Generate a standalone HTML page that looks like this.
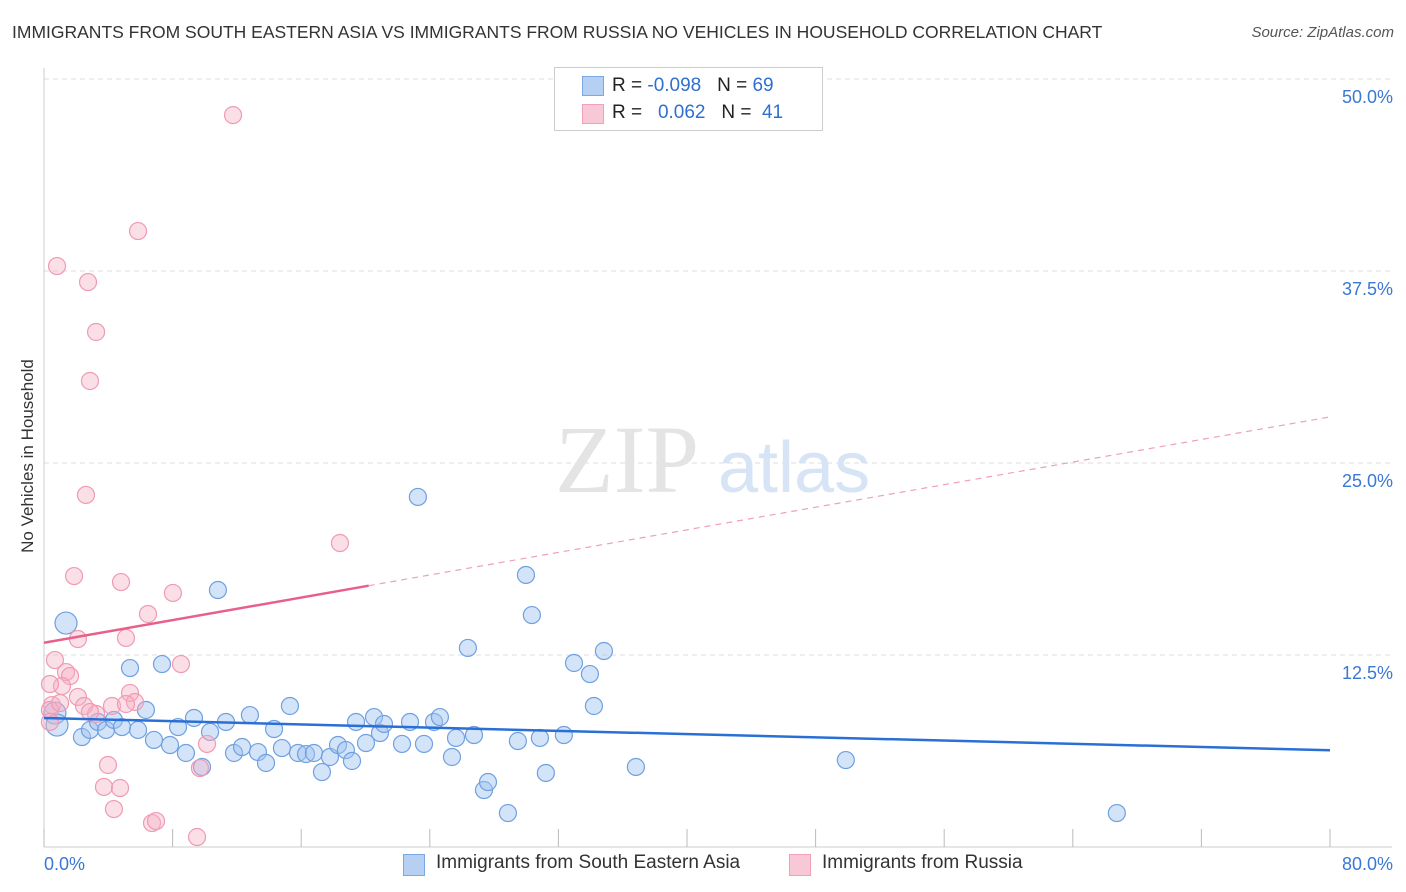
<!DOCTYPE html>
<html><head><meta charset="utf-8"><style>
body{margin:0;background:#fff;font-family:"Liberation Sans",sans-serif;}
#w{position:relative;width:1406px;height:892px;overflow:hidden;}
.t{position:absolute;white-space:nowrap;}
</style></head><body>
<div id="w">
<div class="t" style="left:12px;top:22px;font-size:17.5px;color:#333;">IMMIGRANTS FROM SOUTH EASTERN ASIA VS IMMIGRANTS FROM RUSSIA NO VEHICLES IN HOUSEHOLD CORRELATION CHART</div>
<div class="t" style="right:12px;top:24px;font-size:15px;color:#555;font-style:italic;">Source: ZipAtlas.com</div>
<div class="t" style="left:28px;top:456px;font-size:17px;color:#333;transform:translate(-50%,-50%) rotate(-90deg);">No Vehicles in Household</div>
<svg id="s" width="1406" height="892" style="position:absolute;left:0;top:0"></svg>
<div style="position:absolute;left:554px;top:67px;width:267px;height:62px;border:1px solid #ccc;background:#fff;font-size:19px;">
<div style="position:absolute;left:27px;top:8px;width:20px;height:18px;background:#b5d0f3;border:1px solid #7aa8e0;"></div>
<div class="t" style="left:57px;top:7px;color:#222;">R = <span style="color:#2f6fcf">-0.098</span>&nbsp;&nbsp;&nbsp;N = <span style="color:#2f6fcf">69</span></div>
<div style="position:absolute;left:27px;top:36px;width:20px;height:18px;background:#f8c8d6;border:1px solid #f0a0b8;"></div>
<div class="t" style="left:57px;top:34px;color:#222;">R = &nbsp;&nbsp;<span style="color:#2f6fcf">0.062</span>&nbsp;&nbsp;&nbsp;N = &nbsp;<span style="color:#2f6fcf">41</span></div>
</div>
<div style="position:absolute;left:403px;top:852px;font-size:19px;color:#333;">
<div style="position:absolute;left:0;top:2px;width:20px;height:20px;background:#b5d0f3;border:1px solid #7aa8e0;"></div>
<div class="t" style="left:33px;top:0;">Immigrants from South Eastern Asia</div>
<div style="position:absolute;left:386px;top:2px;width:20px;height:20px;background:#f8c8d6;border:1px solid #f0a0b8;"></div>
<div class="t" style="left:419px;top:0;">Immigrants from Russia</div>
</div>
</div>
<script>
const blueX=[1.37,0.68,0.81,2.36,2.86,3.36,3.86,4.35,4.85,5.35,5.85,6.34,6.84,7.34,7.84,8.34,8.83,9.33,9.83,10.33,10.82,11.32,11.82,12.32,12.81,13.31,13.81,14.31,14.80,15.30,15.80,16.30,16.79,17.29,17.79,18.29,18.78,19.16,19.41,20.03,20.53,20.90,21.15,22.27,22.77,23.26,23.64,24.26,24.63,25.38,25.63,26.37,26.75,27.37,27.62,28.86,29.48,29.98,30.35,30.85,31.22,32.34,32.97,33.96,34.21,34.83,36.82,49.88,66.74];
const blueY=[14.58,8.72,7.94,7.16,7.62,8.14,7.62,8.27,7.81,11.65,7.62,8.92,6.97,11.91,6.64,7.81,6.12,8.40,5.21,7.49,16.73,8.14,6.12,6.51,8.59,6.18,5.47,7.68,6.44,9.18,6.12,6.05,6.12,4.88,5.86,6.64,6.31,5.60,8.14,6.77,8.46,7.42,8.01,6.71,8.14,22.79,6.71,8.14,8.46,5.86,7.10,12.96,7.29,3.71,4.23,2.21,6.90,17.71,15.10,7.10,4.82,7.29,11.98,11.26,9.18,12.76,5.21,5.66,2.21];
const pinkX=[11.76,5.85,0.81,2.74,3.24,2.86,2.61,18.41,1.87,4.79,8.02,6.47,2.11,5.10,0.68,8.52,1.37,1.62,1.12,0.37,2.11,5.35,5.66,0.50,2.49,4.23,5.10,3.24,0.37,10.14,3.98,3.73,4.73,9.70,4.35,6.72,6.97,9.52,1.00,2.86,0.37];
const pinkY=[47.65,40.10,37.82,36.78,33.53,30.34,22.92,19.79,17.64,17.25,16.54,15.17,13.54,13.61,12.17,11.91,11.39,11.13,10.48,10.61,9.77,10.03,9.44,9.24,9.18,9.18,9.31,8.66,8.92,6.71,5.34,3.91,3.84,5.14,2.47,1.56,1.69,0.65,9.37,8.79,8.14];
const yTicks=[12.5,25,37.5,50];
const yTickLabels=["12.5%","25.0%","37.5%","50.0%"];
const blueTrend=[8.4,6.3];
const pinkTrend=[13.3,28.0];
const pinkSolidEnd=20.2;
const X=v=>44+v*16.075, Y=v=>847-v*15.36;
const s=document.getElementById('s'),NS='http://www.w3.org/2000/svg';
function el(t,a,n){const e=document.createElementNS(NS,t);for(const k in a)e.setAttribute(k,a[k]);


s.appendChild(e);return e;}
yTicks.forEach((v,i)=>{el('line',{x1:44,x2:1392,y1:Y(v),y2:Y(v),stroke:'#ddd','stroke-dasharray':'5,4'},'gridline');
const t=el('text',{x:1393,y:Y(v)+24,'text-anchor':'end','font-size':18,fill:'#3a78d4','font-family':'Liberation Sans'},'y-tick-label');t.textContent=yTickLabels[i];});
el('line',{x1:44,x2:44,y1:68,y2:847,stroke:'#ccc'},'y-axis');
el('line',{x1:44,x2:1392,y1:847,y2:847,stroke:'#ccc'},'x-axis');
for(let i=0;i<=10;i++)el('line',{x1:X(i*8),x2:X(i*8),y1:829,y2:847,stroke:'#bbb'},'x-tick');
let t=el('text',{x:44,y:870,'font-size':18,fill:'#3a78d4','font-family':'Liberation Sans'},'x-tick-label');t.textContent='0.0%';
t=el('text',{x:1393,y:870,'text-anchor':'end','font-size':18,fill:'#3a78d4','font-family':'Liberation Sans'},'x-tick-label');t.textContent='80.0%';
t=el('text',{x:555,y:492,'font-size':96,fill:'#e4e4e4','font-family':'Liberation Serif'},'watermark');t.textContent='ZIP';
t=el('text',{x:718,y:492,'font-size':72,fill:'#d6e4f5','font-family':'Liberation Sans'},'watermark');t.textContent='atlas';
blueX.forEach((x,i)=>el('circle',{cx:X(x),cy:Y(blueY[i]),r:i<3?11:8.5,fill:'rgba(160,196,240,0.45)',stroke:'#6fa0e0','stroke-width':1.2},'blue-point'));
pinkX.forEach((x,i)=>el('circle',{cx:X(x),cy:Y(pinkY[i]),r:8.5,fill:'rgba(245,175,195,0.4)',stroke:'#f09ab4','stroke-width':1.2},'pink-point'));
const py=v=>pinkTrend[0]+(pinkTrend[1]-pinkTrend[0])*v/80;
el('line',{x1:X(0),y1:Y(blueTrend[0]),x2:X(80),y2:Y(blueTrend[1]),stroke:'#2a6fd6','stroke-width':2.5},'blue-trend-line');
el('line',{x1:X(0),y1:Y(py(0)),x2:X(pinkSolidEnd),y2:Y(py(pinkSolidEnd)),stroke:'#e8608a','stroke-width':2.5},'pink-trend-line');
el('line',{x1:X(pinkSolidEnd),y1:Y(py(pinkSolidEnd)),x2:X(80),y2:Y(py(80)),stroke:'#eea0b8','stroke-width':1.2,'stroke-dasharray':'6,5'},'pink-trend-extension');
</script>
</body></html>
